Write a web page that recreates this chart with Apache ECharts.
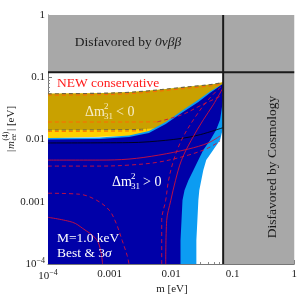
<!DOCTYPE html>
<html><head><meta charset="utf-8">
<script src="https://cdn.jsdelivr.net/npm/echarts@6/dist/echarts.min.js"></script>
<style>html,body{margin:0;padding:0;background:#fff}#c{width:300px;height:298px}</style>
</head><body><div id="c"></div>
<script>
// ---- tick labels ----
const tickValues = [1e-4, 1e-3, 1e-2, 1e-1, 1];
const tickLabels = ['10{s|\u22124}', '0.001', '0.01', '0.1', '1'];

// ---- limits ----
const cosmoLimit = 0.07;     // eV, vertical boundary
const onbbLimit = 0.12;      // eV, horizontal boundary

// ---- regions (m [eV], |m_ee^(4)| [eV]) ----
const grayTop = [[1e-4, 0.12], [1, 0.12], [1, 1], [1e-4, 1]];
const grayRight = [[0.07, 1e-4], [1, 1e-4], [1, 0.12], [0.07, 0.12]];
const goldTopEdge = [[1e-4, 0.0542], [0.000684, 0.0552], [0.00207, 0.0573], [0.00436, 0.0606], [0.011, 0.0665], [0.0277, 0.0729], [0.0482, 0.0771], [0.0697, 0.083]];
const yellowBottomEdge = [[0.0697, 0.03], [0.006, 0.014], [0.003, 0.0115], [1e-4, 0.0105]];
const goldBottomEdge = [[0.0697, 0.03], [0.01, 0.017], [0.005, 0.015], [0.002, 0.0144], [1e-4, 0.0142]];
const lightBlueNH = [[1e-4, 0.0106], [0.000684, 0.0108], [0.00207, 0.0116], [0.00436, 0.0137], [0.00817, 0.0191], [0.01475, 0.0288], [0.0277, 0.0434], [0.0432, 0.0595], [0.0697, 0.0786],
  [0.0697, 0.0153], [0.0624, 0.0098], [0.0482, 0.00678], [0.0372, 0.00467], [0.0333, 0.00322], [0.0309, 0.00222], [0.0287, 0.00153], [0.0277, 0.00106], [0.0267, 0.000504], [0.0257, 0.000239], [0.0257, 1e-4], [1e-4, 1e-4]];
const darkBlueNH = [[1e-4, 0.0100], [0.000684, 0.0102], [0.00207, 0.011], [0.00436, 0.0127], [0.00817, 0.0178], [0.01475, 0.0267], [0.0277, 0.0402], [0.0432, 0.0562], [0.0538, 0.0653], [0.0697, 0.0786],
  [0.0697, 0.0434], [0.0624, 0.0207], [0.0538, 0.0142], [0.0432, 0.0098], [0.0333, 0.00678], [0.0277, 0.00467], [0.023, 0.00322], [0.0191, 0.00222], [0.0165, 0.00153], [0.0153, 0.00106], [0.01475, 0.000504], [0.0142, 0.000239], [0.0142, 1e-4], [1e-4, 1e-4]];

// ---- contour lines ----
const goldBottomLine = [[1e-4, 0.0142], [0.002, 0.0144], [0.004, 0.0147]];
const orangeMidLine = [[1e-4, 0.0191], [0.002, 0.0191], [0.006, 0.0192]];
const redMidDashed = [[0.006, 0.0192], [0.015, 0.025], [0.03, 0.035], [0.0697, 0.052]];
const blackLine = [[1e-4, 0.0088], [0.002, 0.0089], [0.0044, 0.0092], [0.0147, 0.0104], [0.03, 0.012], [0.0697, 0.0155]];
const redSolidUpper = [[1e-4, 0.00467], [0.000684, 0.00467], [0.00207, 0.00485], [0.0063, 0.00562], [0.0191, 0.00703], [0.04, 0.0088], [0.0624, 0.0114]];
const redDashedUpper = [[1e-4, 0.00374], [0.000684, 0.00374], [0.00207, 0.00388], [0.0063, 0.00434], [0.0191, 0.00562], [0.04, 0.0073], [0.0624, 0.00946]];
const redDashedLow = [[1e-4, 0.00137], [0.000327, 0.00132], [0.000612, 0.00106], [0.00099, 0.00073], [0.00128, 0.00045], [0.0016, 0.00024], [0.00193, 0.000137], [0.00207, 0.0001]];
const redSolidLow = [[1e-4, 0.000562], [0.000252, 0.000467], [0.000365, 0.000374], [0.00061, 0.00025], [0.00072, 0.00016], [0.00077, 0.0001]];
const redDashedRight = [[0.00703, 1e-4], [0.00703, 0.000504], [0.00817, 0.00106], [0.0091, 0.00222], [0.011, 0.00467], [0.01475, 0.0098], [0.023, 0.0207], [0.04, 0.0434], [0.0697, 0.0757]];
const redSolidRight = [[0.00817, 1e-4], [0.00848, 0.000504], [0.0099, 0.00106], [0.0118, 0.00222], [0.01475, 0.00467], [0.0213, 0.0098], [0.0333, 0.0207], [0.0482, 0.036], [0.0697, 0.0678]];

const SERIF = '"Liberation Serif","DejaVu Serif",serif';
const C = {gray: '#a8a8a8', gold: '#c9a100', yellow: '#ffd200', light: '#0c9cf2', dark: '#0000a8', red: '#d0103a', orange: '#ff6a00'};

function poly(name, pts, color, z) {
  return {type: 'custom', name, coordinateSystem: 'cartesian2d', z, silent: true, clip: true,
    data: [pts[0]],
    renderItem: (params, api) => ({type: 'polygon', shape: {points: pts.map(p => api.coord(p))}, style: {fill: color}})};
}
function line(name, pts, color, width, dash, z) {
  return {type: 'line', name, data: pts, z, silent: true, showSymbol: false, symbol: 'none', smooth: 0.35,
    lineStyle: {color, width, type: dash ? [4, 3] : 'solid'}};
}

const series = [
  poly('grayTop', grayTop, C.gray, 2),
  poly('grayRight', grayRight, C.gray, 2),
  poly('yellowIH', goldTopEdge.concat(yellowBottomEdge), C.yellow, 3),
  poly('goldIH', goldTopEdge.concat(goldBottomEdge), C.gold, 4),
  poly('lightNH', lightBlueNH, C.light, 5),
  poly('darkNH', darkBlueNH, C.dark, 6),
  line('goldTop', goldTopEdge, '#6f6440', 1.2, true, 7),
  line('goldTopOrange', goldTopEdge.map(p => [p[0], p[1] * 0.95]), C.orange, 1, true, 7),
  line('goldBottom', goldBottomLine, '#6f6440', 1, true, 7),
  line('goldBottomOrange', goldBottomLine.map(p => [p[0], p[1] * 0.95]), C.orange, 1, true, 7),
  line('orangeMid', orangeMidLine, C.orange, 1, true, 7),
  line('redMidDashed', redMidDashed, C.red, 0.9, true, 7),
  line('black', blackLine, '#000', 0.8, false, 7),
  line('redSolidUpper', redSolidUpper, C.red, 0.9, false, 7),
  line('redDashedUpper', redDashedUpper, C.red, 0.9, true, 7),
  line('redDashedLow', redDashedLow, C.red, 0.9, true, 7),
  line('redSolidLow', redSolidLow, C.red, 0.9, false, 7),
  line('redDashedRight', redDashedRight, C.red, 0.9, true, 7),
  line('redSolidRight', redSolidRight, C.red, 0.9, false, 7),
  line('onbb', [[1e-4, onbbLimit], [1, onbbLimit]], '#1a1a1a', 2, false, 8),
  line('cosmo', [[cosmoLimit, 1e-4], [cosmoLimit, 1]], '#1a1a1a', 2, false, 8)
];

function labelFmt(v) {
  let best = 0;
  tickValues.forEach((t, i) => { if (Math.abs(Math.log10(v) - Math.log10(t)) < Math.abs(Math.log10(v) - Math.log10(tickValues[best]))) best = i; });
  return tickLabels[best];
}
const axisCommon = {
  type: 'log', logBase: 10, min: 1e-4, max: 1,
  axisLine: {show: true, lineStyle: {color: '#777', width: 1}},
  axisTick: {show: true, inside: true, length: 4, lineStyle: {color: '#777'}},
  minorTick: {show: true, splitNumber: 9, length: 2, lineStyle: {color: '#888'}},
  splitLine: {show: false}, minorSplitLine: {show: false},
  axisLabel: {formatter: labelFmt, color: '#222', fontFamily: SERIF, fontSize: 11,
    rich: {s: {fontSize: 8, fontFamily: SERIF, color: '#222', padding: [0, 0, 6, 0]}}}
};

function dm(xLeft, yMid, rel, color) {
  const f = '14px ' + SERIF, fs = '9px ' + SERIF;
  return {type: 'group', x: xLeft, y: yMid, silent: true, z: 100, children: [
    {type: 'text', x: 0, y: 0, z: 100, style: {text: '\u0394m', font: f, fill: color, textVerticalAlign: 'middle'}},
    {type: 'text', x: 19, y: -5, z: 100, style: {text: '2', font: fs, fill: color, textVerticalAlign: 'middle'}},
    {type: 'text', x: 19, y: 5, z: 100, style: {text: '31', font: fs, fill: color, textVerticalAlign: 'middle'}},
    {type: 'text', x: 31, y: 0, z: 100, style: {text: rel + ' 0', font: f, fill: color, textVerticalAlign: 'middle'}}
  ]};
}

const chart = echarts.init(document.getElementById('c'), null, {renderer: 'canvas'});
chart.setOption({
  animation: false,
  backgroundColor: '#fff',
  grid: {left: 48, right: 3, top: 15, bottom: 34},
  xAxis: Object.assign({}, axisCommon, {axisLabel: Object.assign({}, axisCommon.axisLabel, {margin: 5})}),
  yAxis: Object.assign({}, axisCommon, {axisLabel: Object.assign({}, axisCommon.axisLabel, {margin: 3})}),
  series,
  graphic: [
    {type: 'text', x: 128, y: 42, silent: true, z: 100, style: {text: 'Disfavored by {i|0\u03bd\u03b2\u03b2}', font: '13.5px ' + SERIF, fill: '#1a1a1a', textAlign: 'center', textVerticalAlign: 'middle',
      rich: {i: {fontStyle: 'italic', fontSize: 13.5, fontFamily: SERIF, fill: '#1a1a1a'}}}},
    {type: 'text', x: 272, y: 167, rotation: Math.PI / 2, silent: true, z: 100, style: {text: 'Disfavored by Cosmology', font: '13.5px ' + SERIF, fill: '#1a1a1a', textAlign: 'center', textVerticalAlign: 'middle'}},
    {type: 'text', x: 57, y: 83, silent: true, z: 100, style: {text: 'NEW conservative', font: '13.5px ' + SERIF, fill: '#ff1a1a', textVerticalAlign: 'middle'}},
    dm(85, 112, '<', '#f6ecc6'),
    dm(112, 182, '>', '#ffffff'),
    {type: 'text', x: 57, y: 238, silent: true, z: 100, style: {text: 'M=1.0 keV', font: '13.5px ' + SERIF, fill: '#fff', textVerticalAlign: 'middle'}},
    {type: 'text', x: 57, y: 253, silent: true, z: 100, style: {text: 'Best & 3{i|\u03c3}', font: '13.5px ' + SERIF, fill: '#fff', textVerticalAlign: 'middle',
      rich: {i: {fontStyle: 'italic', fontSize: 13.5, fontFamily: SERIF, fill: '#fff'}}}},
    {type: 'text', x: 172, y: 289, silent: true, z: 100, style: {text: 'm [eV]', font: '11px ' + SERIF, fill: '#222', textAlign: 'center', textVerticalAlign: 'middle'}},
    {type: 'group', x: 11, y: 152, rotation: Math.PI / 2, silent: true, z: 100, children: [
      {type: 'text', x: 0, y: 0, z: 100, style: {text: '|', font: '11px ' + SERIF, fill: '#222', textVerticalAlign: 'middle'}},
      {type: 'text', x: 3, y: 0, z: 100, style: {text: 'm', font: 'italic 11px ' + SERIF, fill: '#222', textVerticalAlign: 'middle'}},
      {type: 'text', x: 11.5, y: -4.5, z: 100, style: {text: '(4)', font: '7.5px ' + SERIF, fill: '#222', textVerticalAlign: 'middle'}},
      {type: 'text', x: 11.5, y: 3.5, z: 100, style: {text: 'ee', font: 'italic 7.5px ' + SERIF, fill: '#222', textVerticalAlign: 'middle'}},
      {type: 'text', x: 21, y: 0, z: 100, style: {text: '| [eV]', font: '11px ' + SERIF, fill: '#222', textVerticalAlign: 'middle'}}
    ]}
  ]
});
</script></body></html>
